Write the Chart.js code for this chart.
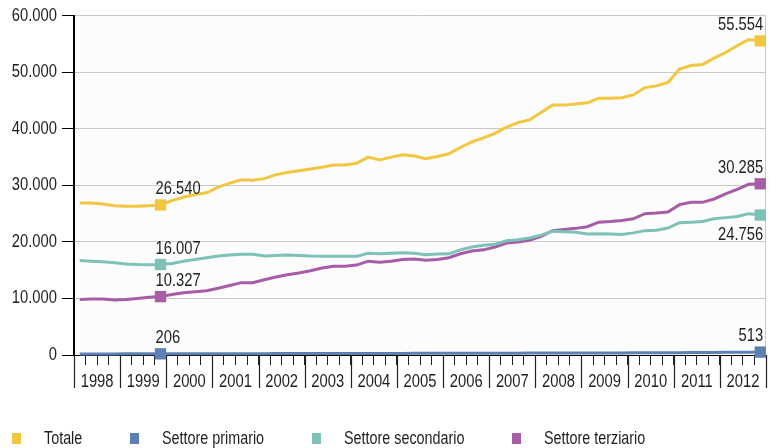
<!DOCTYPE html>
<html><head><meta charset="utf-8">
<script src="https://cdn.jsdelivr.net/npm/chart.js@4/dist/chart.umd.min.js"></script>
<style>
html,body{margin:0;padding:0;background:#fff;}
#wrap{position:relative;width:779px;height:448px;overflow:hidden;}
#c{position:absolute;left:0;top:0;}
#legend{position:absolute;left:12px;top:428px;display:flex;align-items:center;font-family:'Liberation Sans',Arial,sans-serif;font-size:17.5px;color:#1e1e1e;line-height:20px;white-space:nowrap;}
.item{display:flex;align-items:center;margin-right:48px;}
.sw{width:9px;height:11px;margin-right:23px;flex:none;}
.tx{display:inline-block;transform:scaleX(0.82);transform-origin:0 50%;}
</style></head>
<body><div id="wrap"><canvas id="c" width="779" height="448"></canvas><div id="legend"></div></div>
<script>
const FONT = "'Liberation Sans', Arial, sans-serif";
const SX = 0.82; // condensed rendering of the text

const years = ['1998','1999','2000','2001','2002','2003','2004','2005','2006','2007','2008','2009','2010','2011','2012'];
const quarters = ['I','II','III','IV'];
const categories = years.flatMap(y => quarters.map(q => y + ' ' + q));

const seriesNames = ['Totale','Settore primario','Settore secondario','Settore terziario'];
const seriesColors = ['#F3C640','#5D80B3','#7CC2B6','#A75CA8'];

const totale = [26900,26900,26700,26400,26300,26300,26400,26540,
  27300,27900,28400,28700, 29700,30400,31000,30900,
  31200,31900,32300,32600, 32900,33200,33600,33600,
  33900,35000,34500,35000, 35400,35200,34700,35100,
  35600,36700,37700,38400, 39200,40300,41100,41600,
  42900,44200,44200,44400, 44600,45400,45400,45500,
  46000,47300,47600,48200, 50600,51200,51400,52500,
  53500,54700,55800,55554];
const primario = [190,190,195,195,200,200,205,206,
  210,215,215,220, 225,230,230,235,
  240,245,245,250, 255,260,260,265,
  270,275,275,280, 285,290,290,295,
  300,305,310,315, 320,325,330,335,
  340,345,350,355, 360,365,370,375,
  380,390,400,410, 420,430,440,455,
  470,485,500,513];
const secondario = [16700,16600,16500,16300,16100,16000,15950,16007,
  16200,16600,16900,17200, 17500,17700,17800,17800,
  17500,17600,17700,17600, 17500,17450,17450,17450,
  17450,18000,17900,18000, 18100,18000,17750,17850,
  17900,18600,19100,19400, 19600,20200,20400,20700,
  21200,21900,21800,21700, 21400,21450,21400,21300,
  21600,22000,22050,22450, 23400,23500,23600,24100,
  24300,24500,25000,24756];
const terziario = [9800,9900,9900,9750,9800,10000,10200,10327,
  10700,11000,11200,11350, 11800,12300,12800,12800,
  13300,13800,14200,14500, 14900,15400,15700,15700,
  15900,16600,16400,16600, 16900,17000,16750,16900,
  17200,17900,18400,18600, 19100,19800,20000,20300,
  21000,22000,22200,22400, 22700,23500,23600,23800,
  24100,25000,25100,25300, 26600,27000,27000,27600,
  28500,29300,30200,30285];

const seriesValues = [totale, primario, secondario, terziario];
const markedIdx = [7, 59];
const endLabelBelow = [false, false, true, false];
const yTicks = [0,10000,20000,30000,40000,50000,60000];

function fmt(v){ return String(Math.round(v)).replace(/\B(?=(\d{3})+(?!\d))/g,'.'); }

// condensed text on the chart canvas (text stays real canvas text)
const canvas = document.getElementById('c');
const cctx = canvas.getContext('2d');
const origFill = cctx.fillText.bind(cctx);
const origMeasure = cctx.measureText.bind(cctx);
cctx.fillText = function(t, x, y, mw){
  this.save(); this.translate(x, y); this.scale(SX, 1);
  if (mw !== undefined) origFill(t, 0, 0, mw / SX); else origFill(t, 0, 0);
  this.restore();
};
cctx.measureText = function(t){
  const m = origMeasure(t);
  return {width:m.width*SX, actualBoundingBoxLeft:m.actualBoundingBoxLeft*SX, actualBoundingBoxRight:m.actualBoundingBoxRight*SX,
    actualBoundingBoxAscent:m.actualBoundingBoxAscent, actualBoundingBoxDescent:m.actualBoundingBoxDescent,
    fontBoundingBoxAscent:m.fontBoundingBoxAscent, fontBoundingBoxDescent:m.fontBoundingBoxDescent};
};

const valueLabels = {
  id:'valueLabels',
  afterDatasetsDraw(chart){
    const ctx = chart.ctx;
    ctx.save();
    ctx.font = '18px ' + FONT;
    ctx.fillStyle = '#1e1e1e';
    ctx.textBaseline = 'alphabetic';
    chart.data.datasets.forEach((ds, di) => {
      const meta = chart.getDatasetMeta(di);
      markedIdx.forEach((idx, k) => {
        const pt = meta.data[idx];
        const txt = fmt(ds.data[idx]);
        const below = k === 1 && endLabelBelow[di];
        ctx.textAlign = k === 0 ? 'left' : 'right';
        const x = k === 0 ? pt.x - 5 : pt.x + 3;
        const y = below ? pt.y + 25 : pt.y - 11;
        ctx.fillText(txt, x, y);
      });
    });
    ctx.restore();
  }
};

const frame = {
  id:'frame',
  beforeDraw(chart){
    const {ctx, chartArea:a} = chart;
    ctx.save();
    ctx.fillStyle = '#fcfcfc';
    ctx.fillRect(a.left, a.top, a.right - a.left, a.bottom - a.top);
    ctx.restore();
  },
  beforeDatasetsDraw(chart){
    const {ctx, chartArea:a} = chart;
    const xs = chart.scales.x;
    ctx.save();
    ctx.strokeStyle = '#c8c8c8';
    ctx.lineWidth = 1;
    ctx.beginPath();
    ctx.moveTo(a.right - 0.5, a.top);
    ctx.lineTo(a.right - 0.5, a.bottom);
    ctx.stroke();
    const half = (xs.getPixelForValue(1) - xs.getPixelForValue(0)) / 2;
    ctx.strokeStyle = '#222';
    ctx.lineWidth = 1.2;
    ctx.beginPath();
    for (let i = 0; i <= categories.length; i += 4) {
      const px = Math.round(xs.getPixelForValue(Math.min(i, categories.length - 1)) + (i < categories.length ? -half : half)) + 0.5;
      ctx.moveTo(px, a.bottom);
      ctx.lineTo(px, a.bottom + 33);
    }
    ctx.stroke();
    ctx.restore();
  }
};

new Chart(canvas, {
  type:'line',
  data:{
    labels: categories,
    datasets: seriesNames.map((n, i) => ({
      label: n,
      data: seriesValues[i],
      borderColor: seriesColors[i],
      backgroundColor: seriesColors[i],
      borderWidth: 3,
      tension: 0,
      pointStyle: 'rect',
      pointRadius: c => markedIdx.includes(c.dataIndex) ? 8 : 0,
      pointHoverRadius: 0,
      pointBorderWidth: 0,
      pointBackgroundColor: seriesColors[i],
      clip: false
    }))
  },
  options:{
    responsive:false,
    animation:false,
    events:[],
    layout:{padding:{top:15,right:13,bottom:53,left:0}},
    plugins:{legend:{display:false},tooltip:{enabled:false}},
    scales:{
      x:{
        type:'category',
        offset:true,
        grid:{display:true,drawOnChartArea:false,drawTicks:true,tickLength:10,color:'#222',lineWidth:1,offset:true},
        border:{display:true,color:'#000',width:1},
        ticks:{autoSkip:false,maxRotation:0,minRotation:0,labelOffset:5.8,padding:6,
          font:{family:FONT,size:18},color:'#1e1e1e',
          callback:(v,i) => i % 4 === 1 ? years[Math.floor(i/4)] : ''},
        afterFit:s => { s.height = 40; }
      },
      y:{
        min:0,max:60000,
        afterBuildTicks:s => { s.ticks = yTicks.map(v => ({value:v})); },
        grid:{color:'#c8c8c8',tickColor:'#000',tickLength:12,lineWidth:1},
        border:{color:'#000',width:2},
        ticks:{padding:5,font:{family:FONT,size:18},color:'#1e1e1e',callback:v => fmt(v)},
        afterFit:s => { s.width = 74; }
      }
    }
  },
  plugins:[frame, valueLabels]
});
</script>
<script>
const lg = document.getElementById('legend');
seriesNames.forEach((n, i) => {
  const it = document.createElement('div'); it.className = 'item';
  const sw = document.createElement('div'); sw.className = 'sw'; sw.style.background = seriesColors[i];
  const tx = document.createElement('span'); tx.className = 'tx'; tx.textContent = n;
  it.appendChild(sw); it.appendChild(tx); lg.appendChild(it);
  const shrink = tx.offsetWidth - tx.getBoundingClientRect().width;
  tx.style.marginRight = (-shrink) + 'px';
});
</script>
</body></html>
